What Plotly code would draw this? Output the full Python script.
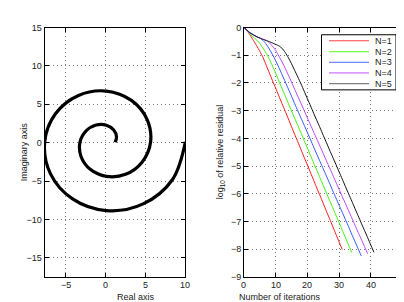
import plotly.graph_objects as go

# ---------------- data ----------------
spiral_re = [1.2, 1.37, 1.02, 0.1, -1.19, -2.46, -3.23, -3.10, -1.94, 0.1, 2.51, 4.59,
             5.66, 5.23, 3.25, 0.1, -3.42, -6.32, -7.68, -6.96, -4.16, 0.1, 4.73, 8.45, 10.05]
spiral_im = [0.05, 0.79, 1.65, 2.26, 2.29, 1.53, 0.05, -1.80, -3.47, -4.39, -4.12, -2.54,
             0.05, 3.01, 5.50, 6.72, 6.15, 3.76, 0.05, -4.03, -7.33, -8.85, -7.98, -4.77, 0.1]

res_n1 = [0, -0.12, -0.29, -0.47, -0.66, -0.86, -1.08, -1.36, -1.64, -1.92, -2.19, -2.47,
          -2.75, -3.02, -3.30, -3.58, -3.86, -4.13, -4.41, -4.69, -4.96, -5.24, -5.52, -5.80,
          -6.07, -6.35, -6.63, -6.90, -7.18, -7.46, -7.74, -8.01]
res_n2 = [0, -0.13, -0.25, -0.35, -0.45, -0.58, -0.74, -0.93, -1.15, -1.39, -1.65, -1.93,
          -2.2, -2.47, -2.74, -3.01, -3.28, -3.54, -3.81, -4.08, -4.35, -4.62, -4.89, -5.16,
          -5.43, -5.70, -5.97, -6.24, -6.50, -6.77, -7.04, -7.31, -7.58, -7.85, -8.12]
res_n3 = [0, -0.13, -0.2, -0.26, -0.33, -0.38, -0.47, -0.6, -0.78, -0.98, -1.2, -1.44,
          -1.7, -1.96, -2.22, -2.48, -2.75, -3.01, -3.27, -3.53, -3.79, -4.05, -4.32, -4.58,
          -4.84, -5.10, -5.36, -5.62, -5.89, -6.15, -6.41, -6.67, -6.93, -7.19, -7.46, -7.72,
          -7.98, -8.24]
res_n4 = [0, -0.13, -0.2, -0.27, -0.34, -0.38, -0.42, -0.46, -0.55, -0.68, -0.83, -1.03,
          -1.24, -1.47, -1.72, -1.97, -2.23, -2.49, -2.74, -3.0, -3.26, -3.52, -3.78, -4.03,
          -4.29, -4.55, -4.81, -5.06, -5.32, -5.58, -5.84, -6.10, -6.35, -6.61, -6.87, -7.13,
          -7.39, -7.64, -7.90, -8.16]
res_n5 = [0, -0.1, -0.2, -0.27, -0.33, -0.38, -0.43, -0.47, -0.51, -0.56, -0.61, -0.66,
          -0.75, -0.9, -1.09, -1.31, -1.55, -1.79, -2.04, -2.30, -2.57, -2.83, -3.10, -3.36,
          -3.62, -3.89, -4.15, -4.42, -4.68, -4.94, -5.21, -5.47, -5.74, -6.0, -6.26, -6.53,
          -6.79, -7.06, -7.32, -7.58, -7.85, -8.11]

series_names = ["N=1", "N=2", "N=3", "N=4", "N=5"]
series_vals = [res_n1, res_n2, res_n3, res_n4, res_n5]
series_cols = ["#ff1a1a", "#44ee11", "#3355ff", "#bb44ff", "#111111"]
legend_cols = ["#ff4444", "#77ff44", "#7788ff", "#cc77ff", "#808080"]

x1_ticks = [-5, 0, 5, 10]
y1_ticks = [-15, -10, -5, 0, 5, 10, 15]
x2_ticks = [0, 10, 20, 30, 40, 50]
y2_ticks = [-9, -8, -7, -6, -5, -4, -3, -2, -1, 0]

# ---------------- figure ----------------
W, H = 404, 302
fig = go.Figure()

fig.add_trace(go.Scatter(x=spiral_re, y=spiral_im, mode="lines",
                         line=dict(color="black", width=3.2, shape="spline", smoothing=1.0),
                         xaxis="x", yaxis="y", showlegend=False, hoverinfo="skip"))

for name, vals, col in zip(series_names, series_vals, series_cols):
    fig.add_trace(go.Scatter(x=list(range(len(vals))), y=vals, mode="lines", name=name,
                             line=dict(color=col, width=1, shape="spline", smoothing=0.5),
                             xaxis="x2", yaxis="y2", showlegend=False))

px = lambda v: v / W
py = lambda v: 1 - v / H

font = dict(family="Liberation Sans, Arial, sans-serif", size=9, color="#222222")
axcommon = dict(showline=True, linecolor="black", linewidth=1, mirror="ticks", ticks="inside",
                ticklen=4, tickcolor="black", showgrid=True, gridcolor="#777777", griddash="1px,3px",
                gridwidth=1, zeroline=False, tickfont=font)

fig.update_layout(
    width=W, height=H, margin=dict(l=0, r=0, t=0, b=0),
    paper_bgcolor="white", plot_bgcolor="white", font=font,
    xaxis=dict(domain=[px(36.5), px(177)], range=[-7.7, 10], tickvals=x1_ticks, anchor="y",
               showticklabels=False, **axcommon),
    yaxis=dict(domain=[py(273), py(15)], range=[-17.5, 15], tickvals=y1_ticks, anchor="x", **axcommon),
    xaxis2=dict(domain=[px(236), px(394.5)], range=[0, 50], tickvals=x2_ticks, anchor="y2",
                showticklabels=False, **axcommon),
    yaxis2=dict(domain=[py(273), py(15)], range=[-9, 0], tickvals=y2_ticks, anchor="x2", **axcommon),
    showlegend=False,
)


def fmt(v):
    return ("\u2212" + str(abs(v))) if v < 0 else str(v)


annotations = []
for v in x1_ticks:
    annotations.append(dict(text=fmt(v), x=v, xref="x", y=py(281.5), yref="paper", showarrow=False,
                            yanchor="middle", font=font))
for v in x2_ticks:
    annotations.append(dict(text=fmt(v), x=v, xref="x2", y=py(281.5), yref="paper", showarrow=False,
                            yanchor="middle", font=font))

annotations += [
    dict(text="Real axis", x=px(107), y=py(293.5), xref="paper", yref="paper", showarrow=False,
         yanchor="middle", font=font),
    dict(text="Imaginary axis", x=px(9), y=py(144), xref="paper", yref="paper", showarrow=False,
         textangle=-90, font=font),
    dict(text="Number of iterations", x=px(315), y=py(293.5), xref="paper", yref="paper", showarrow=False,
         yanchor="middle", font=font),
    dict(text="log<sub>10</sub> of relative residual", x=px(212), y=py(144), xref="paper", yref="paper",
         showarrow=False, textangle=-90, font=font),
]

shapes = [dict(type="rect", xref="paper", yref="paper", x0=px(313.5), x1=px(388), y0=py(79.5), y1=py(22.5),
               line=dict(color="black", width=1), fillcolor="white", layer="above")]
row_y = [28.7, 40, 51, 62, 73]
for name, col, ry in zip(series_names, legend_cols, row_y):
    shapes.append(dict(type="line", xref="paper", yref="paper", x0=px(321), x1=px(361), y0=py(ry), y1=py(ry),
                       line=dict(color=col, width=1.2), layer="above"))
    annotations.append(dict(text=name, x=px(365), y=py(ry), xref="paper", yref="paper", showarrow=False,
                            xanchor="left", yanchor="middle", font=font))

fig.update_layout(annotations=annotations, shapes=shapes)
fig.write_html("out.html")
